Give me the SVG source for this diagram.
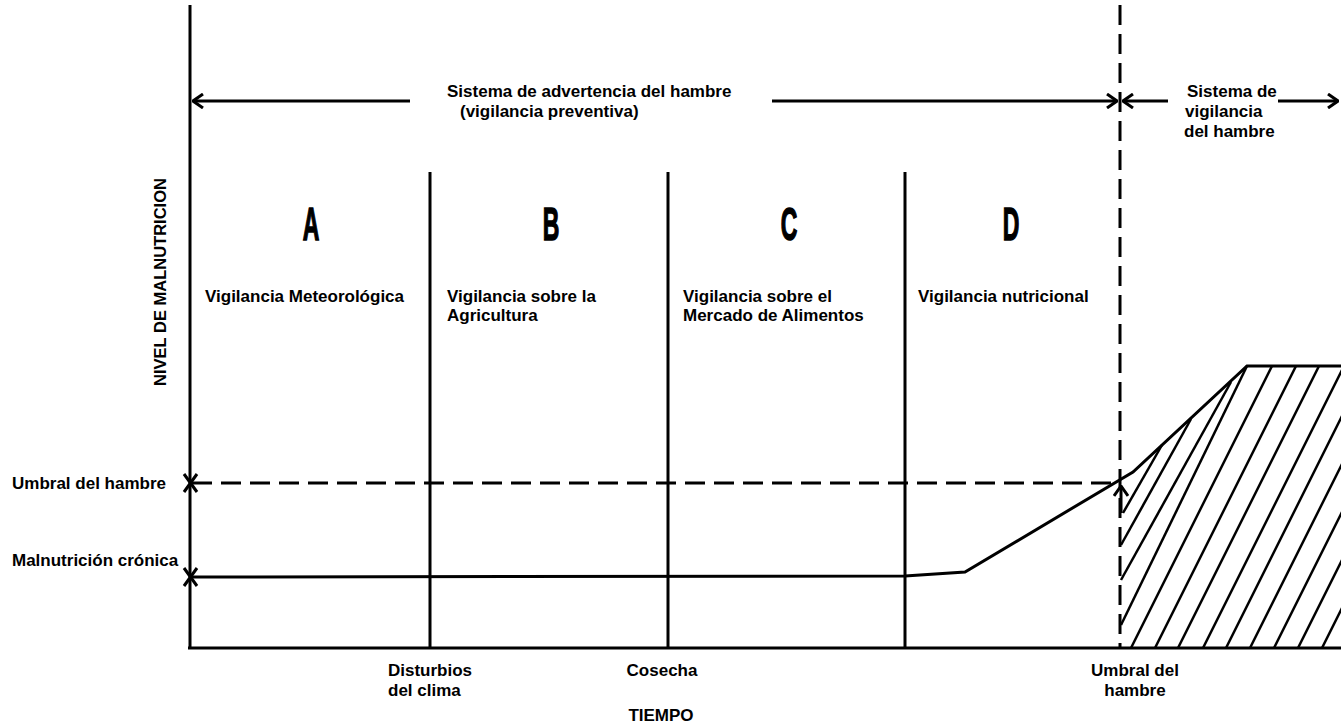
<svg xmlns="http://www.w3.org/2000/svg" width="1341" height="728" viewBox="0 0 1341 728">
  <defs>
    <style>
      .ln { stroke: #000; stroke-width: 3; fill: none; stroke-linecap: butt; }
      .dash { stroke: #000; stroke-width: 3; fill: none; stroke-dasharray: 20 9; }
      .hatch { stroke: #000; stroke-width: 2.5; fill: none; }
      .t { font-family: "Liberation Sans", Arial, sans-serif; font-weight: bold; font-size: 17px; fill: #000; }
      .big { font-family: "Liberation Sans", Arial, sans-serif; font-weight: bold; font-size: 46px; fill: #000; stroke: #000; stroke-width: 1.5; }
    </style>
    <marker id="head" viewBox="0 0 12 16" refX="11" refY="8" markerWidth="12" markerHeight="16" markerUnits="userSpaceOnUse" orient="auto">
      <path d="M1,1 L11,8 L1,15" fill="none" stroke="#000" stroke-width="3"/>
    </marker>
    <clipPath id="area">
      <polygon points="1121,648 1121,505 1133,472 1247,366 1341,366 1341,648"/>
    </clipPath>
  </defs>

  <!-- axes and phase dividers -->
  <g id="axes">
    <line class="ln" x1="190" y1="5" x2="190" y2="649"/>
    <line class="ln" x1="188" y1="648" x2="1341" y2="648"/>
    <line class="ln" x1="430" y1="172" x2="430" y2="648"/>
    <line class="ln" x1="668" y1="172" x2="668" y2="648"/>
    <line class="ln" x1="905" y1="172" x2="905" y2="648"/>
    <line class="dash" x1="1120" y1="5" x2="1120" y2="648"/>
  </g>

  <!-- level markers on the vertical axis -->
  <g id="marks">
    <path class="ln" d="M184,474 L197,492 M197,474 L184,492"/>
    <path class="ln" d="M184,568 L197,586 M197,568 L184,586"/>
  </g>

  <!-- connectors: span arrows, threshold line, malnutrition curve -->
  <g id="connectors">
    <line class="ln" x1="410" y1="101" x2="193" y2="101" marker-end="url(#head)"/>
    <line class="ln" x1="772" y1="101" x2="1117" y2="101" marker-end="url(#head)"/>
    <line class="ln" x1="1168" y1="101" x2="1123" y2="101" marker-end="url(#head)"/>
    <line class="ln" x1="1278" y1="101" x2="1338" y2="101" marker-end="url(#head)"/>
    <line class="dash" x1="192" y1="483" x2="1115" y2="483" stroke-dasharray="22 10"/>
    <polyline class="ln" points="192,577 905,576 965,572 1133,472 1247,366 1341,366"/>
    <line class="ln" x1="1121" y1="513" x2="1121" y2="486" marker-end="url(#head)"/>
  </g>

  <!-- hatched famine area -->
  <g id="famine-area">
    <line class="hatch" x1="1123" y1="513" x2="1162" y2="445"/>
    <line class="hatch" x1="1121" y1="545" x2="1191" y2="419"/>
    <line class="hatch" x1="1121" y1="580" x2="1231" y2="382"/>
    <line class="hatch" x1="1121" y1="625" x2="1247" y2="366"/>
    <g clip-path="url(#area)">
      <line class="hatch" x1="1131" y1="648" x2="1272" y2="366"/>
      <line class="hatch" x1="1155" y1="648" x2="1296" y2="366"/>
      <line class="hatch" x1="1178" y1="648" x2="1319" y2="366"/>
      <line class="hatch" x1="1203" y1="648" x2="1344" y2="366"/>
      <line class="hatch" x1="1226" y1="648" x2="1367" y2="366"/>
      <line class="hatch" x1="1250" y1="648" x2="1391" y2="366"/>
      <line class="hatch" x1="1274" y1="648" x2="1415" y2="366"/>
      <line class="hatch" x1="1298" y1="648" x2="1439" y2="366"/>
      <line class="hatch" x1="1322" y1="648" x2="1463" y2="366"/>
    </g>
  </g>

  <!-- phase columns -->
  <g id="phase-a">
    <text class="big" transform="translate(311,240) scale(0.5,1)" text-anchor="middle">A</text>
    <text class="t" x="205" y="302">Vigilancia Meteorológica</text>
  </g>
  <g id="phase-b">
    <text class="big" transform="translate(551,240) scale(0.5,1)" text-anchor="middle">B</text>
    <text class="t" x="447" y="302">Vigilancia sobre la</text>
    <text class="t" x="447" y="321">Agricultura</text>
  </g>
  <g id="phase-c">
    <text class="big" transform="translate(789,240) scale(0.5,1)" text-anchor="middle">C</text>
    <text class="t" x="683" y="302">Vigilancia sobre el</text>
    <text class="t" x="683" y="321">Mercado de Alimentos</text>
  </g>
  <g id="phase-d">
    <text class="big" transform="translate(1011,240) scale(0.5,1)" text-anchor="middle">D</text>
    <text class="t" x="918" y="302">Vigilancia nutricional</text>
  </g>

  <!-- system labels -->
  <g id="warning-system">
    <text class="t" x="447" y="97">Sistema de advertencia del hambre</text>
    <text class="t" x="460" y="117">(vigilancia preventiva)</text>
  </g>
  <g id="surveillance-system">
    <text class="t" x="1187" y="97">Sistema de</text>
    <text class="t" x="1185" y="117">vigilancia</text>
    <text class="t" x="1184" y="137">del hambre</text>
  </g>

  <!-- axis labels -->
  <g id="y-labels">
    <text class="t" transform="translate(166,282) rotate(-90)" text-anchor="middle" style="font-size:16.5px">NIVEL DE MALNUTRICION</text>
    <text class="t" x="12" y="489">Umbral del hambre</text>
    <text class="t" x="12" y="566">Malnutrición crónica</text>
  </g>
  <g id="x-labels">
    <text class="t" x="388" y="676">Disturbios</text>
    <text class="t" x="388" y="696">del clima</text>
    <text class="t" x="662" y="676" text-anchor="middle">Cosecha</text>
    <text class="t" x="1135" y="676" text-anchor="middle">Umbral del</text>
    <text class="t" x="1135" y="696" text-anchor="middle">hambre</text>
    <text class="t" x="661" y="721" text-anchor="middle">TIEMPO</text>
  </g>
</svg>
